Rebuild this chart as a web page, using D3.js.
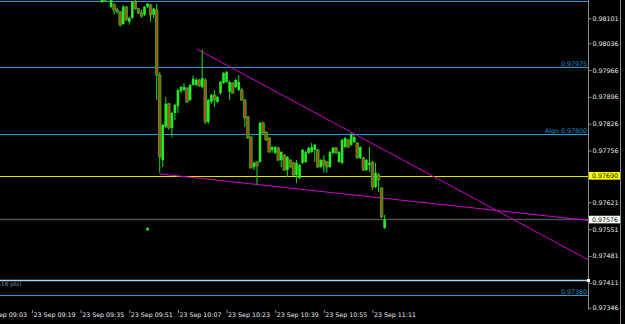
<!DOCTYPE html>
<html>
<head>
<meta charset="utf-8">
<style>
  html, body { margin: 0; padding: 0; background: #000; }
  svg { display: block; }
</style>
<script src="https://cdn.jsdelivr.net/npm/d3@7"></script>
</head>
<body>
<div id="container"></div>
<script>
// M1 bars, 23 Sep
const times = [
  "09:42","09:43","09:44","09:45","09:46","09:47","09:48","09:49","09:50","09:51",
  "09:52","09:53","09:54","09:55","09:56","09:57","09:58","09:59","10:00","10:01",
  "10:02","10:03","10:04","10:05","10:06","10:07","10:08","10:09","10:10","10:11",
  "10:12","10:13","10:14","10:15","10:16","10:17","10:18","10:19","10:20","10:21",
  "10:22","10:23","10:24","10:25","10:26","10:27","10:28","10:29","10:30","10:31",
  "10:32","10:33","10:34","10:35","10:36","10:37","10:38","10:39","10:40","10:41",
  "10:42","10:43","10:44","10:45","10:46","10:47","10:48","10:49","10:50","10:51",
  "10:52","10:53","10:54","10:55","10:56","10:57","10:58","10:59","11:00","11:01",
  "11:02","11:03","11:04","11:05","11:06","11:07","11:08","11:09","11:10","11:11",
  "11:12","11:13","11:14","11:15"
]
const open = [
  0.98144,0.98154,0.98170,0.98131,0.98136,0.98123,0.98118,0.98086,0.98131,0.98092,
  0.98102,0.98144,0.98126,0.98115,0.98110,0.98131,0.98136,0.98110,0.98123,0.97953,
  0.97731,0.97818,0.97878,0.97815,0.97854,0.97872,0.97911,0.97914,0.97919,0.97888,
  0.97927,0.97927,0.97940,0.97922,0.97940,0.97831,0.97883,0.97901,0.97883,0.97906,
  0.97932,0.97935,0.97909,0.97932,0.97922,0.97914,0.97914,0.97888,0.97844,0.97791,
  0.97713,0.97726,0.97726,0.97828,0.97804,0.97789,0.97758,0.97750,0.97763,0.97731,
  0.97744,0.97705,0.97731,0.97724,0.97692,0.97684,0.97724,0.97726,0.97750,0.97752,
  0.97758,0.97758,0.97713,0.97731,0.97726,0.97713,0.97750,0.97763,0.97726,0.97724,
  0.97765,0.97784,0.97771,0.97778,0.97776,0.97737,0.97737,0.97705,0.97718,0.97726,
  0.97661,0.97692,0.97658,0.97554
]
const high = [
  0.98162,0.98165,0.98180,0.98162,0.98141,0.98128,0.98120,0.98136,0.98133,0.98105,
  0.98146,0.98154,0.98128,0.98123,0.98133,0.98141,0.98139,0.98128,0.98139,0.97961,
  0.97825,0.97896,0.97880,0.97857,0.97878,0.97917,0.97925,0.97932,0.97922,0.97930,
  0.97951,0.97945,0.97943,0.98019,0.97945,0.97891,0.97904,0.97914,0.97898,0.97938,
  0.97961,0.97964,0.97938,0.97935,0.97943,0.97953,0.97919,0.97891,0.97846,0.97794,
  0.97726,0.97729,0.97831,0.97831,0.97807,0.97791,0.97768,0.97768,0.97765,0.97755,
  0.97747,0.97742,0.97734,0.97726,0.97731,0.97721,0.97760,0.97755,0.97765,0.97776,
  0.97773,0.97760,0.97734,0.97744,0.97729,0.97755,0.97765,0.97765,0.97755,0.97786,
  0.97791,0.97786,0.97802,0.97797,0.97778,0.97768,0.97739,0.97734,0.97765,0.97729,
  0.97724,0.97698,0.97661,0.97588
]
const low = [
  0.98141,0.98144,0.98154,0.98128,0.98110,0.98112,0.98079,0.98084,0.98094,0.98084,
  0.98099,0.98123,0.98112,0.98102,0.98107,0.98128,0.98092,0.98102,0.97888,0.97698,
  0.97713,0.97815,0.97810,0.97791,0.97836,0.97854,0.97906,0.97911,0.97880,0.97885,
  0.97925,0.97925,0.97922,0.97919,0.97825,0.97825,0.97878,0.97870,0.97880,0.97901,
  0.97930,0.97932,0.97888,0.97904,0.97919,0.97911,0.97885,0.97818,0.97786,0.97708,
  0.97705,0.97669,0.97724,0.97799,0.97781,0.97750,0.97750,0.97747,0.97729,0.97713,
  0.97703,0.97687,0.97711,0.97690,0.97671,0.97682,0.97721,0.97724,0.97747,0.97750,
  0.97726,0.97711,0.97711,0.97698,0.97698,0.97711,0.97747,0.97747,0.97724,0.97721,
  0.97763,0.97763,0.97768,0.97776,0.97734,0.97734,0.97703,0.97703,0.97700,0.97653,
  0.97658,0.97648,0.97580,0.97551
]
const close = [
  0.98149,0.98146,0.98159,0.98154,0.98123,0.98118,0.98084,0.98131,0.98097,0.98102,
  0.98144,0.98126,0.98115,0.98107,0.98131,0.98139,0.98110,0.98126,0.97953,0.97739,
  0.97823,0.97878,0.97815,0.97854,0.97875,0.97914,0.97922,0.97922,0.97883,0.97927,
  0.97943,0.97940,0.97925,0.97945,0.97831,0.97888,0.97901,0.97888,0.97896,0.97935,
  0.97958,0.97961,0.97935,0.97906,0.97940,0.97935,0.97888,0.97841,0.97789,0.97711,
  0.97724,0.97716,0.97828,0.97802,0.97784,0.97752,0.97765,0.97765,0.97731,0.97752,
  0.97705,0.97739,0.97713,0.97692,0.97724,0.97718,0.97758,0.97752,0.97763,0.97765,
  0.97771,0.97713,0.97731,0.97718,0.97713,0.97752,0.97763,0.97750,0.97752,0.97784,
  0.97789,0.97765,0.97797,0.97791,0.97737,0.97765,0.97705,0.97731,0.97724,0.97661,
  0.97698,0.97679,0.97583,0.97576
]

const priceTicks = [0.98101, 0.98036, 0.97966, 0.97896, 0.97826, 0.97756, 0.97621, 0.97551, 0.97481, 0.97411, 0.97346]
const timeTicks = ["09:03","09:19","09:35","09:51","10:07","10:23","10:39","10:55","11:11"]

// horizontal levels
const blueLevels = [0.98147, 0.97975, 0.97800, 0.97380]
const blueLabels = ["", "0.97975", "Algo 0.97800", "0.97380"]
const yellowLevel = 0.97690
const bidLevel = 0.97576
const stopLevel = 0.97417
const stopLabel = "-16 pts)"

// trend lines (two anchors each, extended to the right)
const upperLine = { times: ["10:13:10", "11:39:48"], prices: [0.98021, 0.97651] }
const lowerLine = { times: ["10:01:00", "11:39:48"], prices: [0.97695, 0.97610] }

// arrow dot
const dotTime = "09:57"
const dotPrice = 0.97551

const width = 625
const height = 324
const plotW = 588
const plotH = 310
const font = '"DejaVu Sans", Verdana, sans-serif'

const parseTime = s => {
  const [h, m, sec] = s.split(":").map(Number)
  return new Date(2019, 8, 23, h, m, sec || 0)
}

const bars = times.map((t, i) => ({
  time: parseTime(t), open: open[i], high: high[i], low: low[i], close: close[i]
}))

const xScale = d3.scaleTime([parseTime("09:08:28"), parseTime("12:21:54")], [0, plotW])
const yScale = d3.scaleLinear([0.97346, 0.98101], [307.7, 18.3])

const svg = d3.select('#container')
  .append('svg')
  .attr('width', width)
  .attr('height', height)
  .attr('viewBox', [0, 0, width, height])
  .style('background', '#000')
  .attr('font-family', font)

svg.append('clipPath').attr('id', 'plot')
  .append('rect').attr('width', plotW).attr('height', plotH)

const plot = svg.append('g').attr('clip-path', 'url(#plot)')

// blue levels
plot.selectAll('line.blue')
  .data(blueLevels)
  .join('line')
  .attr('class', 'blue')
  .attr('x1', 0).attr('x2', plotW)
  .attr('y1', d => Math.round(yScale(d)) + 0.5)
  .attr('y2', d => Math.round(yScale(d)) + 0.5)
  .attr('stroke', '#1aa2dc')

plot.selectAll('text.blue')
  .data(blueLevels)
  .join('text')
  .attr('class', 'blue')
  .attr('x', plotW - 1)
  .attr('y', d => Math.round(yScale(d)) - 1.5)
  .attr('text-anchor', 'end')
  .attr('font-size', 6.3)
  .attr('fill', '#1e9ad2')
  .text((d, i) => blueLabels[i])

// yellow, bid and stop lines
plot.append('line')
  .attr('x1', 0).attr('x2', plotW)
  .attr('y1', Math.round(yScale(yellowLevel)) + 0.5)
  .attr('y2', Math.round(yScale(yellowLevel)) + 0.5)
  .attr('stroke', '#e2e200')

plot.append('line')
  .attr('x1', 0).attr('x2', plotW)
  .attr('y1', yScale(bidLevel))
  .attr('y2', yScale(bidLevel))
  .attr('stroke', '#4a5058')
  .attr('stroke-width', 1.6)

plot.append('line')
  .attr('x1', 0).attr('x2', plotW)
  .attr('y1', yScale(stopLevel))
  .attr('y2', yScale(stopLevel))
  .attr('stroke', '#9fd6f5')
  .attr('stroke-width', 1.5)

plot.append('text')
  .attr('x', -1)
  .attr('y', yScale(stopLevel) + 6)
  .attr('font-size', 5.8)
  .attr('fill', '#8c8c8c')
  .text(stopLabel)

// trend lines
const ray = ({ times, prices }) => {
  const x1 = xScale(parseTime(times[0])), y1 = yScale(prices[0])
  const x2 = xScale(parseTime(times[1])), y2 = yScale(prices[1])
  const k = (y2 - y1) / (x2 - x1)
  return [[x1, y1], [plotW + 2, y1 + k * (plotW + 2 - x1)]]
}

plot.selectAll('path.trend')
  .data([upperLine, lowerLine])
  .join('path')
  .attr('class', 'trend')
  .attr('d', d => d3.line()(ray(d)))
  .attr('stroke', '#d000d0')
  .attr('fill', 'none')

// candles
const candles = plot.append('g')
  .selectAll('g')
  .data(bars)
  .join('g')

candles.append('line')
  .attr('x1', d => xScale(d.time))
  .attr('x2', d => xScale(d.time))
  .attr('y1', d => yScale(d.high))
  .attr('y2', d => yScale(d.low))
  .attr('stroke', '#1ec81e')
  .attr('stroke-width', 1.1)

candles.append('rect')
  .attr('x', d => xScale(d.time) - 1.3)
  .attr('width', 2.6)
  .attr('y', d => yScale(Math.max(d.open, d.close)))
  .attr('height', d => Math.max(1, Math.abs(yScale(d.open) - yScale(d.close))))
  .attr('fill', d => d.close >= d.open ? '#26ea26' : '#b8451c')
  .attr('stroke', d => d.close >= d.open ? 'none' : '#1ec81e')
  .attr('stroke-width', 0.7)

plot.append('circle')
  .attr('cx', xScale(parseTime(dotTime)))
  .attr('cy', yScale(dotPrice))
  .attr('r', 1.6)
  .attr('fill', '#22dd22')

// price axis
svg.append('line')
  .attr('x1', plotW + 0.5).attr('x2', plotW + 0.5)
  .attr('y1', 0).attr('y2', plotH)
  .attr('stroke', '#8a8a8a')

svg.append('line')
  .attr('x1', 620.5).attr('x2', 620.5)
  .attr('y1', 0).attr('y2', height)
  .attr('stroke', '#8a8a8a')

svg.append('g')
  .attr('transform', `translate(${plotW + 0.5},0)`)
  .call(d3.axisRight(yScale).tickValues(priceTicks).tickFormat(d3.format('.5f')).tickSize(3).tickPadding(1))
  .call(g => g.select('.domain').remove())
  .call(g => g.selectAll('line').attr('stroke', '#8a8a8a'))
  .call(g => g.selectAll('text').attr('fill', '#ececec').attr('font-size', 6.3).attr('font-family', font))

// price boxes on axis
const priceBox = (price, fill) => {
  const y = yScale(price)
  svg.append('rect')
    .attr('x', plotW + 1).attr('y', y - 3.8)
    .attr('width', 31).attr('height', 7.6)
    .attr('fill', fill)
  svg.append('text')
    .attr('x', plotW + 4).attr('y', y)
    .attr('dy', '0.36em')
    .attr('font-size', 6.3)
    .attr('fill', '#000')
    .text(d3.format('.5f')(price))
}
priceBox(yellowLevel, '#ffff00')
priceBox(bidLevel, '#ffffff')

svg.append('rect')
  .attr('x', plotW - 1).attr('y', yScale(stopLevel) - 1.5)
  .attr('width', 3).attr('height', 3)
  .attr('fill', '#ffffff')

// time axis
svg.append('g')
  .attr('transform', `translate(0,${plotH})`)
  .call(d3.axisBottom(xScale).tickValues(timeTicks.map(parseTime)).tickFormat(d3.timeFormat('%d %b %H:%M')).tickSize(3).tickPadding(0))
  .call(g => g.select('.domain').remove())
  .call(g => g.selectAll('line').attr('stroke', '#8a8a8a'))
  .call(g => g.selectAll('text')
    .attr('text-anchor', 'start')
    .attr('x', 1)
    .attr('fill', '#ececec')
    .attr('font-size', 6.3)
    .attr('font-family', font))
</script>
</body>
</html>
